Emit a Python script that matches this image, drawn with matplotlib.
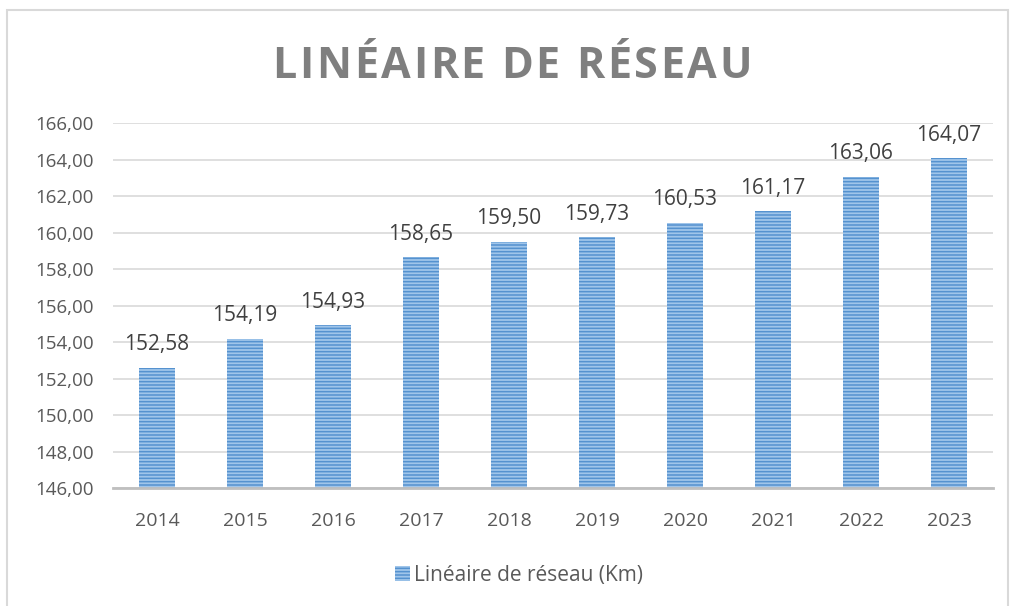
import matplotlib.pyplot as plt
import matplotlib as mpl
from matplotlib.patches import Rectangle, Patch

mpl.rcParams['font.family'] = ['Open Sans', 'DejaVu Sans']
mpl.rcParams['hatch.linewidth'] = 1.1

years = ['2014', '2015', '2016', '2017', '2018', '2019', '2020', '2021', '2022', '2023']
values = [152.58, 154.19, 154.93, 158.65, 159.50, 159.73, 160.53, 161.17, 163.06, 164.07]
yticks = [146, 148, 150, 152, 154, 156, 158, 160, 162, 164, 166]
title = 'LINÉAIRE DE RÉSEAU'
series_name = 'Linéaire de réseau (Km)'

def fr(v):
    return f'{v:.2f}'.replace('.', ',')

W, H = 1011, 606
fig = plt.figure(figsize=(W/100, H/100), dpi=100)
ax = fig.add_axes([113/W, 1-488/H, (993-113)/W, (488-123)/H])

# rahmen wie in excel
fig.patches.append(Rectangle((7/W, -0.1), (1008-7)/W, 1.1-10/H, transform=fig.transFigure,
                             fill=False, edgecolor='#D9D9D9', linewidth=1.5))

barface, barhatch = '#A0C5EA', '#5592CF'
x = range(len(years))
ax.bar(x, [v-146 for v in values], bottom=146, width=0.41, color=barface,
       edgecolor=barhatch, linewidth=0, hatch='-----', zorder=3)
for i, v in enumerate(values):
    ax.annotate(fr(v), (i, v), xytext=(0, 9), textcoords='offset points',
                ha='center', va='bottom', fontsize=15, color='#404040')

ax.set_ylim(146, 166)
ax.set_xlim(-0.5, len(years)-0.5)
ax.set_yticks(yticks)
ax.set_yticklabels([fr(t) for t in yticks], fontsize=13.5, color='#595959')
ax.set_xticks(list(x))
ax.set_xticklabels(years, fontsize=14, color='#595959')
ax.tick_params(length=0, pad=14)
ax.tick_params(axis='x', pad=17)
ax.grid(axis='y', color='#D9D9D9', linewidth=1.2, zorder=0)
for s in ['top', 'right', 'left']:
    ax.spines[s].set_visible(False)
ax.spines['bottom'].set_color('#BFBFBF')
ax.spines['bottom'].set_linewidth(2)
ax.spines['bottom'].set_zorder(4)

# titel mit zeichenabstand
renderer = fig.canvas.get_renderer()
tkw = dict(fontsize=31, fontweight='bold', color='#7F7F7F')
def textw(s):
    t = fig.text(0, 0, s, **tkw)
    w = t.get_window_extent(renderer).width
    t.remove()
    return w
sp = 2.6
total = textw(title) + sp*(len(title)-1)
x0 = 512 - total/2
for i, ch in enumerate(title):
    if ch == ' ':
        continue
    xr = x0 + textw(title[:i+1]) + sp*i
    fig.text(xr/W, 1-78/H, ch, ha='right', va='baseline', **tkw)

h = Patch(facecolor=barface, edgecolor=barhatch, linewidth=0, hatch='-----')
fig.legend([h], [series_name], loc='center', bbox_to_anchor=(519/W, 1-575/H),
           frameon=False, fontsize=15, labelcolor='#595959', handlelength=0.75,
           handleheight=0.75, handletextpad=0.2)

fig.savefig('out.png', dpi=100)
